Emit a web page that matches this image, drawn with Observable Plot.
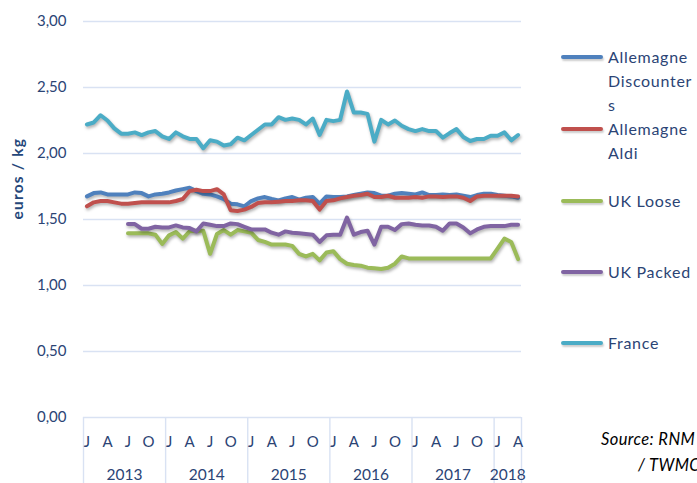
<!DOCTYPE html>
<html><head><meta charset="utf-8">
<script src="https://cdn.jsdelivr.net/npm/d3@7"></script>
<script src="https://cdn.jsdelivr.net/npm/@observablehq/plot@0.6"></script>
<style>
body{margin:0;background:#fff;}
#wrap{position:relative;width:697px;height:483px;overflow:hidden;font-family:Lato,"Open Sans",sans-serif;}
.sw{position:absolute;left:561px;width:42px;height:4px;border-radius:2px;}
.lt{position:absolute;left:608px;font-size:16px;line-height:24px;color:#2b4475;letter-spacing:0.7px;white-space:nowrap;}
.src{position:absolute;font-size:16.5px;font-style:italic;color:#000;white-space:nowrap;letter-spacing:0.4px;}
</style></head><body><div id="wrap"></div>
<script>
const years = [2013, 2014, 2015, 2016, 2017, 2018];
const monthsPerYear = [12, 12, 12, 12, 12, 4];
const monthTickLabels = ["J", "A", "J", "O"];
const yTicks = [0, 0.5, 1, 1.5, 2, 2.5, 3];

const seriesNames = ["Allemagne Discounters", "Allemagne Aldi", "UK Loose", "UK Packed", "France"];
const seriesColors = ["#4f81bd", "#c0504d", "#9bbb59", "#8064a2", "#4bacc6"];
const legendLines = [["Allemagne", "Discounter", "s"], ["Allemagne", "Aldi"], ["UK Loose"], ["UK Packed"], ["France"]];

const allemagneDiscounters = [
 1.675,1.70,1.705,1.69,1.69,1.69,1.69,1.705,1.70,1.675,1.69,1.695,
 1.705,1.72,1.73,1.74,1.715,1.695,1.69,1.675,1.655,1.62,1.615,1.60,
 1.64,1.66,1.67,1.655,1.645,1.66,1.67,1.65,1.665,1.67,1.62,1.675,
 1.67,1.67,1.675,1.685,1.695,1.705,1.70,1.68,1.68,1.695,1.70,1.695,
 1.69,1.705,1.685,1.685,1.69,1.685,1.69,1.68,1.67,1.685,1.695,1.695,
 1.685,1.68,1.675,1.665];
const allemagneAldi = [
 1.60,1.63,1.64,1.64,1.63,1.62,1.62,1.625,1.63,1.63,1.63,1.63,
 1.63,1.64,1.655,1.715,1.725,1.715,1.715,1.73,1.69,1.57,1.565,1.575,
 1.595,1.625,1.63,1.63,1.635,1.64,1.64,1.645,1.645,1.64,1.575,1.64,
 1.645,1.66,1.67,1.68,1.685,1.695,1.67,1.67,1.68,1.665,1.665,1.665,
 1.67,1.665,1.675,1.675,1.67,1.675,1.675,1.665,1.64,1.675,1.68,1.68,
 1.68,1.68,1.68,1.675];
const ukLoose = [
 null,null,null,null,null,null,1.395,1.395,1.395,1.395,1.385,1.315,
 1.38,1.405,1.355,1.41,1.415,1.415,1.24,1.39,1.42,1.385,1.42,1.41,
 1.40,1.345,1.33,1.31,1.31,1.31,1.30,1.24,1.22,1.24,1.19,1.25,
 1.26,1.20,1.165,1.155,1.15,1.135,1.13,1.125,1.135,1.165,1.22,1.205,
 1.205,1.205,1.205,1.205,1.205,1.205,1.205,1.205,1.205,1.205,1.205,1.205,
 1.28,1.355,1.33,1.20];
const ukPacked = [
 null,null,null,null,null,null,1.465,1.465,1.43,1.43,1.445,1.44,
 1.44,1.455,1.44,1.435,1.41,1.47,1.46,1.45,1.45,1.47,1.465,1.445,
 1.425,1.425,1.425,1.40,1.385,1.41,1.40,1.395,1.39,1.385,1.33,1.38,
 1.385,1.385,1.515,1.385,1.405,1.415,1.31,1.445,1.445,1.42,1.465,1.47,
 1.46,1.455,1.455,1.445,1.415,1.47,1.47,1.44,1.395,1.425,1.445,1.45,
 1.45,1.45,1.46,1.46];
const france = [
 2.22,2.235,2.29,2.25,2.19,2.15,2.15,2.16,2.14,2.16,2.17,2.13,
 2.11,2.16,2.13,2.11,2.11,2.04,2.10,2.09,2.06,2.07,2.12,2.10,
 2.14,2.18,2.22,2.22,2.275,2.255,2.265,2.255,2.22,2.265,2.14,2.255,
 2.245,2.255,2.47,2.31,2.31,2.30,2.09,2.255,2.22,2.25,2.21,2.185,
 2.17,2.185,2.17,2.17,2.12,2.155,2.185,2.125,2.095,2.11,2.11,2.135,
 2.135,2.16,2.10,2.14];

const seriesValues = [allemagneDiscounters, allemagneAldi, ukLoose, ukPacked, france];

// category index table
const N = d3.sum(monthsPerYear);
const monthRows = [];
const yearRows = [];
const boundaries = [-0.5];
let idx = 0;
years.forEach((yr, k) => {
  const start = idx;
  for (let m = 0; m < monthsPerYear[k]; m++) {
    if (m % 3 === 0) monthRows.push({i: idx, label: monthTickLabels[m / 3]});
    idx++;
  }
  yearRows.push({year: String(yr), center: (start + idx - 1) / 2});
  boundaries.push(idx - 0.5);
});

const rows = [];
seriesNames.forEach((name, k) => seriesValues[k].forEach((v, i) => { if (v != null) rows.push({i, v, name}); }));

const axisColor = "#2b4475";
const gridColor = "#d9e2f3";
const chart = Plot.plot({
  width: 697, height: 483,
  marginLeft: 83, marginRight: 176, marginTop: 21, marginBottom: 66,
  x: {domain: [-0.5, N - 0.5], axis: null},
  y: {domain: [0, 3], axis: null},
  color: {domain: seriesNames, range: seriesColors},
  style: {fontFamily: "Lato, 'Open Sans', sans-serif", background: "#fff", overflow: "visible"},
  marks: [
    Plot.ruleY(yTicks, {stroke: gridColor, strokeWidth: 1.4}),
    Plot.text(yTicks, {x: -0.5, y: d => d, text: d => d.toFixed(2).replace(".", ","), textAnchor: "end", dx: -17, fontSize: 15, fill: axisColor}),
    Plot.ruleX(boundaries, {x: d => d, y1: 0, y2: -0.5, stroke: gridColor, strokeWidth: 1.4}),
    Plot.text(monthRows, {x: "i", y: 0, text: "label", dy: 25, fontSize: 15, fill: axisColor}),
    Plot.text(yearRows, {x: "center", y: 0, text: "year", dy: 58, fontSize: 15.5, fill: axisColor}),
    Plot.text(["euros / kg"], {frameAnchor: "left", dx: -65, rotate: -90, fontSize: 15.5, fontWeight: "bold", fill: "#25477a", letterSpacing: "1px"}),
    Plot.line(rows, {x: "i", y: "v", z: "name", stroke: "name", strokeWidth: 4, strokeLinejoin: "round", strokeLinecap: "round"})
  ]
});
d3.select(chart).selectAll('g[aria-label="line"] path').style("filter", "drop-shadow(1.5px 2.5px 1.5px rgba(0,0,0,0.3))");
d3.select(chart).selectAll('text').filter(function() { return this.textContent === "euros / kg"; }).style("letter-spacing", "1.2px");

const wrap = document.getElementById("wrap");
wrap.appendChild(chart);

const legendY = [57, 129, 201, 272, 343];
seriesNames.forEach((name, k) => {
  const sw = document.createElement("div");
  sw.className = "sw";
  sw.style.top = (legendY[k] - 2) + "px";
  sw.style.background = seriesColors[k];
  sw.style.boxShadow = "1px 2px 2px rgba(0,0,0,0.2)";
  wrap.appendChild(sw);
  const t = document.createElement("div");
  t.className = "lt";
  t.style.top = (legendY[k] - 12) + "px";
  t.innerHTML = legendLines[k].join("<br>");
  wrap.appendChild(t);
});

const s1 = document.createElement("div");
s1.className = "src"; s1.style.left = "601px"; s1.style.top = "429px"; s1.textContent = "Source:  RNM";
wrap.appendChild(s1);
const s2 = document.createElement("div");
s2.className = "src"; s2.style.left = "638px"; s2.style.top = "455px"; s2.textContent = "/ TWMC";
wrap.appendChild(s2);
</script></body></html>
